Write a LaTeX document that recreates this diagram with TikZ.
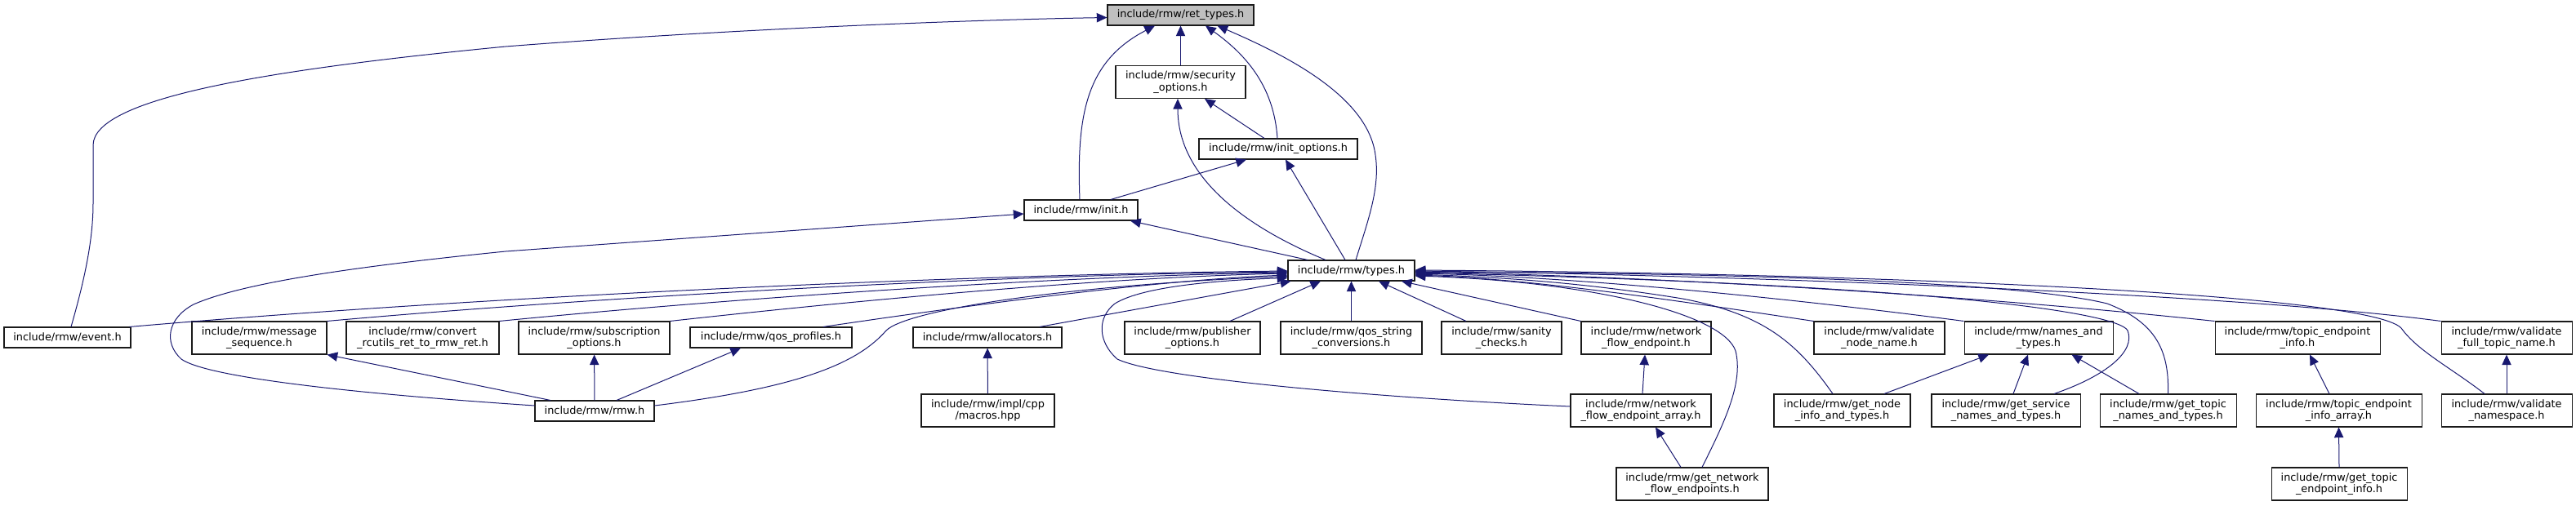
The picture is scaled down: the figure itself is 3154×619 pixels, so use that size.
\documentclass[tikz,border=0pt]{standalone}
\usepackage{fontspec}
\setmainfont{DejaVu Sans}
\usepackage{tikz}
\usetikzlibrary{arrows.meta}
\definecolor{edgeblue}{HTML}{191970}
\definecolor{boxgray}{HTML}{1A1A1A}
\definecolor{rootgray}{HTML}{BFBFBF}
\tikzset{
  hfile/.style = {rectangle, draw=boxgray, fill=white, line width=0.8pt,
                  inner sep=0pt, align=center,
                  font=\fontsize{9.65}{10.7}\selectfont},
  hroot/.style = {hfile, draw=boxgray, fill=rootgray},
  one line/.style = {minimum height=18.75pt},
  two line/.style = {minimum height=30pt},
  boxw/.style = {minimum width=#1*0.75pt},
  incl/.style = {edgeblue, line width=0.75pt,
                 -{Triangle[length=9.5pt, width=8.5pt]}},
}

\begin{document}
\begin{tikzpicture}[x=0.75pt, y=-0.75pt]
\useasboundingbox (0,0) rectangle (3154,619);

% =====================================================================
% Upper chain: ret_types.h, security_options.h, init_options.h, init.h, types.h
% =====================================================================
\node[hroot, one line, boxw=179] (rettypes) at (1445.5, 18.5) {include/rmw/ret\_types.h};
\node[hfile, two line, boxw=159] (secopts)  at (1445.5, 100.5) {include/rmw/security\\\_options.h};
\node[hfile, one line, boxw=194] (initopts) at (1565,   182.5) {include/rmw/init\_options.h};
\node[hfile, one line, boxw=139] (init)     at (1323.5, 257.5) {include/rmw/init.h};
\node[hfile, one line, boxw=155] (types)    at (1654.5, 331.5) {include/rmw/types.h};

% =====================================================================
% Row of direct includers of types.h
% =====================================================================
\node[hfile, one line, boxw=155] (event)      at (82.5,   413.5) {include/rmw/event.h};
\node[hfile, two line, boxw=165] (msgseq)     at (317.5,  414) {include/rmw/message\\\_sequence.h};
\node[hfile, two line, boxw=187] (convert)    at (517.5,  414) {include/rmw/convert\\\_rcutils\_ret\_to\_rmw\_ret.h};
\node[hfile, two line, boxw=185] (subopts)    at (727.5,  414) {include/rmw/subscription\\\_options.h};
\node[hfile, one line, boxw=198] (qosprof)    at (944,    413.5) {include/rmw/qos\_profiles.h};
\node[hfile, one line, boxw=182] (alloc)      at (1209,   413.5) {include/rmw/allocators.h};
\node[hfile, two line, boxw=166] (pubopts)    at (1460,   414) {include/rmw/publisher\\\_options.h};
\node[hfile, two line, boxw=173] (qosstr)     at (1654.5, 414) {include/rmw/qos\_string\\\_conversions.h};
\node[hfile, two line, boxw=147] (sanity)     at (1838.5, 414) {include/rmw/sanity\\\_checks.h};
\node[hfile, two line, boxw=159] (nfe)        at (2015.5, 414) {include/rmw/network\\\_flow\_endpoint.h};
\node[hfile, two line, boxw=160] (valnode)    at (2301,   414) {include/rmw/validate\\\_node\_name.h};
\node[hfile, two line, boxw=182] (namestypes) at (2496,   414) {include/rmw/names\_and\\\_types.h};
\node[hfile, two line, boxw=202] (topicinfo)  at (2813,   414) {include/rmw/topic\_endpoint\\\_info.h};
\node[hfile, two line, boxw=160] (valfull)    at (3069,   414) {include/rmw/validate\\\_full\_topic\_name.h};

% second and third rows
\node[hfile, one line, boxw=146] (rmw)        at (728,    503.5) {include/rmw/rmw.h};
\node[hfile, two line, boxw=163] (macros)     at (1209.5, 503) {include/rmw/impl/cpp\\/macros.hpp};
\node[hfile, two line, boxw=172] (nfearray)   at (2009,   503) {include/rmw/network\\\_flow\_endpoint\_array.h};
\node[hfile, two line, boxw=167] (getnode)    at (2255.5, 503) {include/rmw/get\_node\\\_info\_and\_types.h};
\node[hfile, two line, boxw=182] (getservice) at (2456,   503) {include/rmw/get\_service\\\_names\_and\_types.h};
\node[hfile, two line, boxw=167] (gettopic)   at (2654.5, 503) {include/rmw/get\_topic\\\_names\_and\_types.h};
\node[hfile, two line, boxw=203] (topicarray) at (2863.5, 503) {include/rmw/topic\_endpoint\\\_info\_array.h};
\node[hfile, two line, boxw=160] (valns)      at (3069,   503) {include/rmw/validate\\\_namespace.h};
\node[hfile, two line, boxw=186] (getnetwork)   at (2072, 593) {include/rmw/get\_network\\\_flow\_endpoints.h};
\node[hfile, two line, boxw=166] (gettopicinfo) at (2864, 593) {include/rmw/get\_topic\\\_endpoint\_info.h};

% =====================================================================
% Edges into the upper chain
% =====================================================================
\draw[incl] ([shift={(4.5,0)}]event.north) .. controls (100,355) and (114,300) .. (114,250)
  -- (114,178) .. controls (114,120) and (330,85) .. (619,57)
  .. controls (900,35) and (1200,24) .. ([shift={(0,3)}]rettypes.west);
\draw[incl] ([shift={(-1.5,0)}]init.north) .. controls (1318,140) and (1330,75) .. ([shift={(-31.5,0)}]rettypes.south);
\draw[incl] (secopts) -- (rettypes);
\draw[incl] ([shift={(-1,0)}]initopts.north) .. controls (1560,110) and (1530,70) .. ([shift={(30.5,0)}]rettypes.south);
\draw[incl] ([shift={(5.5,0)}]types.north) .. controls (1675,270) and (1690,230) .. (1684,190)
  .. controls (1675,120) and (1580,70) .. ([shift={(45,0)}]rettypes.south);

\draw[incl] ([shift={(-17,0)}]initopts.north) -- ([shift={(29.5,0)}]secopts.south);
\draw[incl] ([shift={(-31.5,0)}]types.north) .. controls (1530,280) and (1442,220) .. ([shift={(-3.5,0)}]secopts.south);

\draw[incl] ([shift={(36.5,0)}]init.north) -- ([shift={(-39,0)}]initopts.south);
\draw[incl] ([shift={(-7.5,0)}]types.north) -- ([shift={(9,0)}]initopts.south);

\draw[incl] ([shift={(0,-6.5)}]rmw.west) .. controls (400,480) and (250,460) .. (222,440)
  .. controls (200,420) and (205,390) .. (237,373)
  .. controls (300,345) and (450,325) .. (619,308) -- ([shift={(0,4.5)}]init.west);
\draw[incl] ([shift={(-53.5,0)}]types.north) -- ([shift={(60.5,0)}]init.south);

% =====================================================================
% Edges into types.h
% =====================================================================
% from the left
\draw[incl] ([shift={(-2,0)}]event.north east) .. controls (600,362) and (1200,336) .. ([shift={(0,0.5)}]types.west);
\draw[incl] (msgseq.north east) .. controls (750,362) and (1250,336) .. ([shift={(0,1.5)}]types.west);
\draw[incl] (convert.north east) .. controls (900,365) and (1300,338) .. ([shift={(0,2.5)}]types.west);
\draw[incl] (subopts.north east) .. controls (1050,368) and (1350,340) .. ([shift={(0,3.5)}]types.west);
\draw[incl] ([shift={(64,0)}]qosprof.north) .. controls (1200,372) and (1420,343) .. ([shift={(0,5.5)}]types.west);
\draw[incl] ([shift={(0,-6.5)}]rmw.east) .. controls (980,475) and (1050,445) .. (1085,405)
  .. controls (1110,380) and (1300,350) .. ([shift={(0,7)}]types.west);
\draw[incl] ([shift={(0,-5)}]nfearray.west) .. controls (1700,488) and (1420,465) .. (1368,440)
  .. controls (1345,420) and (1342,390) .. (1365,372)
  .. controls (1400,350) and (1500,343) .. ([shift={(0,9)}]types.west);
\draw[incl] ([shift={(64,0)}]alloc.north) -- ([shift={(4,0)}]types.south west);

% from below
\draw[incl] ([shift={(46,0)}]pubopts.north) -- ([shift={(-37.5,0)}]types.south);
\draw[incl] (qosstr) -- (types);
\draw[incl] ([shift={(-43.5,0)}]sanity.north) -- ([shift={(33.5,0)}]types.south);
\draw[incl] (nfe.north west) -- ([shift={(61.5,0)}]types.south);

% from the right
\draw[incl] ([shift={(12,0)}]getnetwork.north) .. controls (2110,520) and (2135,470) .. (2125,430)
  .. controls (2110,385) and (1950,345) .. ([shift={(0,6.5)}]types.east);
\draw[incl] (valnode.north west) .. controls (2050,368) and (1880,342) .. ([shift={(0,5.5)}]types.east);
\draw[incl] ([shift={(-11.5,0)}]getnode.north) .. controls (2200,420) and (2160,385) .. (2060,366)
  .. controls (1950,348) and (1850,340) .. ([shift={(0,4.5)}]types.east);
\draw[incl] (namestypes.north west) .. controls (2150,360) and (1900,338) .. ([shift={(0,3.5)}]types.east);
\draw[incl] ([shift={(59,0)}]getservice.north) .. controls (2580,460) and (2615,430) .. (2605,405)
  .. controls (2595,385) and (2400,350) .. ([shift={(0,2.5)}]types.east);
\draw[incl] (gettopic.north) .. controls (2656,430) and (2640,395) .. (2580,372)
  .. controls (2450,340) and (2000,334) .. ([shift={(0,1.5)}]types.east);
\draw[incl] (topicinfo.north west) .. controls (2350,355) and (1950,337) .. ([shift={(0,1.5)}]types.east);
\draw[incl] (valfull.north west) .. controls (2700,355) and (2000,335) .. ([shift={(0,0.5)}]types.east);
\draw[incl] ([shift={(-27,0)}]valns.north) .. controls (3000,450) and (2960,430) .. (2940,402)
  .. controls (2900,360) and (2300,335) .. ([shift={(0,-0.5)}]types.east);

% =====================================================================
% Lower rows
% =====================================================================
\draw[incl] (rmw) -- (subopts);
\draw[incl] ([shift={(27,0)}]rmw.north) -- ([shift={(-37,0)}]qosprof.south);
\draw[incl] ([shift={(-54,0)}]rmw.north) -- (msgseq.south east);
\draw[incl] (macros) -- (alloc);
\draw[incl] ([shift={(-14,0)}]getnetwork.north) -- ([shift={(18,0)}]nfearray.south);
\draw[incl] ([shift={(2,0)}]nfearray.north) -- ([shift={(-1.5,0)}]nfe.south);
\draw[incl] ([shift={(51.5,0)}]getnode.north) -- ([shift={(-61,0)}]namestypes.south);
\draw[incl] ([shift={(9,0)}]getservice.north) -- ([shift={(-13,0)}]namestypes.south);
\draw[incl] ([shift={(-35.5,0)}]gettopic.north) -- ([shift={(40.5,0)}]namestypes.south);
\draw[incl] ([shift={(-11.5,0)}]topicarray.north) -- ([shift={(15,0)}]topicinfo.south);
\draw[incl] (gettopicinfo.north) -- (topicarray.south);
\draw[incl] (valns) -- (valfull);

\end{tikzpicture}
\end{document}
